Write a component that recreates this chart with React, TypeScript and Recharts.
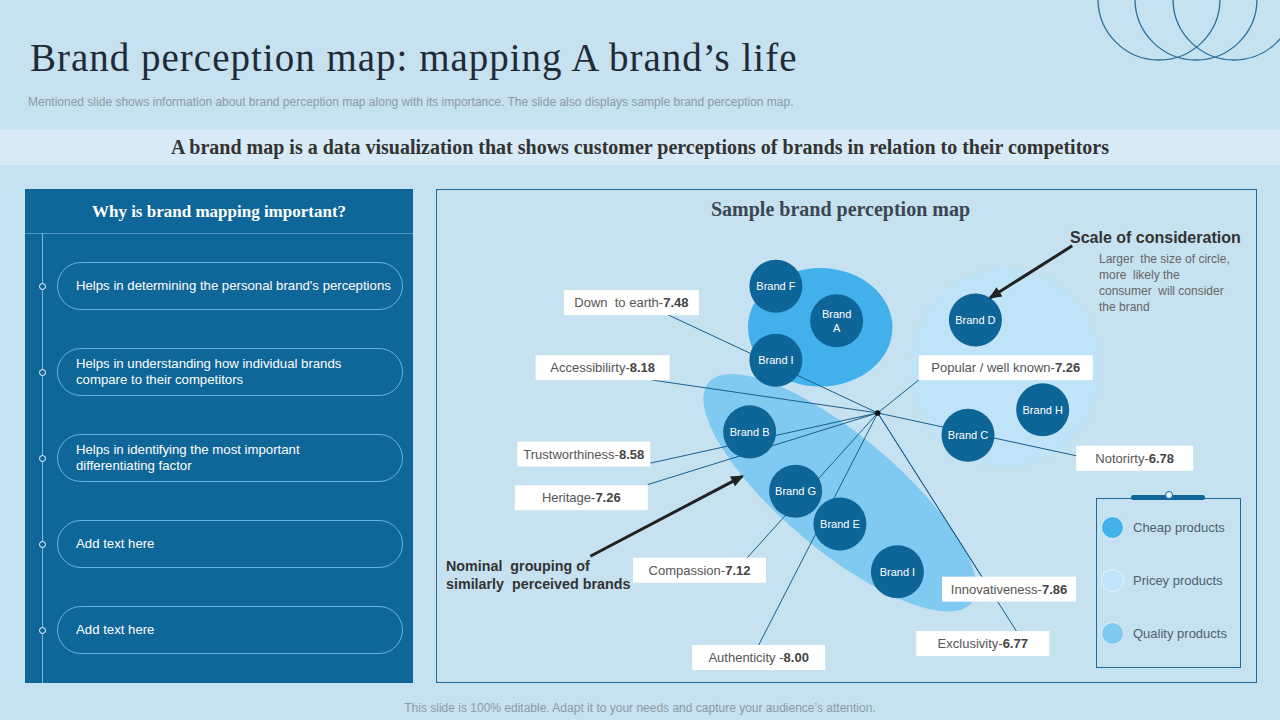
import React from 'react';
import { ScatterChart, Scatter, XAxis, YAxis, Legend } from 'recharts';

// ---------------- DATA ----------------
const brandNames = ['Brand F', 'Brand A', 'Brand I', 'Brand D', 'Brand H', 'Brand C', 'Brand B', 'Brand G', 'Brand E', 'Brand I'];
const brandX = [41.4, 48.8, 41.4, 65.7, 73.9, 64.8, 38.2, 43.8, 49.2, 56.2];
const brandY = [48.2, 44.0, 39.2, 44.1, 33.2, 30.1, 30.5, 23.3, 19.3, 13.5];

const clusterNames = ['Cheap products', 'Pricey products', 'Quality products'];
const clusterX = [46.8, 69.4, 49.2];
const clusterY = [43.2, 38.3, 23.1];
const clusterSpreadX = [8.8, 11.5, 20.9];
const clusterSpreadY = [7.2, 12.1, 7.0];
const clusterTilt = [0, 0, -40];

const attrNames = ['Down  to earth', 'Accessibilirty', 'Trustworthiness', 'Heritage', 'Compassion', 'Authenticity ', 'Popular / well known', 'Notorirty', 'Innovativeness', 'Exclusivity'];
const attrScores = ['7.48', '8.18', '8.58', '7.26', '7.12', '8.00', '7.26', '6.78', '7.86', '6.77'];
const attrX = [23.8, 20.3, 18.0, 17.7, 32.1, 39.3, 69.4, 85.1, 69.8, 66.6];
const attrY = [46.2, 38.3, 27.8, 22.5, 13.7, 3.1, 38.3, 27.3, 11.4, 4.8];
const attrLinkX = [28.3, 26.3, 26.1, 25.8, 37.9, 39.3, 58.8, 78.0, 66.5, 70.7];
const attrLinkY = [44.7, 36.8, 26.7, 24.1, 15.2, 4.6, 36.8, 27.6, 12.9, 6.3];

const hubX = 53.8;
const hubY = 32.8;

const arrowStartX = [77.5, 18.8];
const arrowStartY = [53.1, 15.4];
const arrowEndX = [67.5, 37.3];
const arrowEndY = [46.8, 25.1];

const importancePoints = [
  "Helps in determining the personal brand's perceptions",
  'Helps in understanding how individual  brands\ncompare to their competitors',
  'Helps in identifying the most important\ndifferentiating  factor',
  'Add text here',
  'Add text here',
];

// ---------------- STYLE ----------------
const SANS = '"Liberation Sans", Arial, sans-serif';
const SERIF = '"Liberation Serif", "Times New Roman", serif';
const BG = '#c6e1ef';
const BAND = '#d7eaf5';
const DARK = '#0f6699';
const BRAND_FILL = '#0e6598';
const LINK = '#1c5e8c';
const CLUSTER_COLORS = ['#41b0eb', '#bfe4f8', '#80c9f1'];

const CHART_LEFT = 436;
const CHART_TOP = 189;
const CHART_W = 821;
const CHART_H = 494;
const X_MAX = 100;
const Y_MAX = 60;
const PXX = CHART_W / X_MAX;
const PXY = CHART_H / Y_MAX;
const BRAND_R = 3.23 * PXX;
const BOX_W = [135, 134, 133, 133, 133, 133, 174, 117, 134, 133];
const BOX_H = 25;
const BRAND_WRAP = ['Brand A'];

// ---------------- DERIVED TABLES ----------------
const brandData = brandNames.map((name, i) => ({ name, x: brandX[i], y: brandY[i] }));
const clusterData = clusterNames.map((name, i) => [
  { name, x: clusterX[i], y: clusterY[i], sx: clusterSpreadX[i], sy: clusterSpreadY[i], tilt: clusterTilt[i], color: CLUSTER_COLORS[i] },
]);
const attrData = attrNames.map((name, i) => ({ name, score: attrScores[i], x: attrX[i], y: attrY[i], i }));
const linkData = attrNames.map((_, i) => [
  { x: hubX, y: hubY },
  { x: attrLinkX[i], y: attrLinkY[i] },
]);
const arrowData = arrowStartX.map((_, i) => [
  { x: arrowStartX[i], y: arrowStartY[i], head: false },
  { x: arrowEndX[i], y: arrowEndY[i], head: true, x0: arrowStartX[i], y0: arrowStartY[i] },
]);

// ---------------- SHAPES ----------------
const EmptyShape = () => <g />;

const BlobShape = (props: any) => {
  const { cx, cy, payload } = props;
  if (cx == null || cy == null) return <g />;
  return (
    <ellipse
      cx={cx}
      cy={cy}
      rx={payload.sx * PXX}
      ry={payload.sy * PXY}
      fill={payload.color}
      transform={`rotate(${-payload.tilt} ${cx} ${cy})`}
    />
  );
};

const HubShape = (props: any) => {
  const { cx, cy } = props;
  if (cx == null) return <g />;
  return <circle cx={cx} cy={cy} r={2.8} fill="#111" />;
};

const BrandShape = (props: any) => {
  const { cx, cy, payload } = props;
  if (cx == null) return <g />;
  const name: string = payload.name;
  const lines = BRAND_WRAP.includes(name) ? name.split(' ') : [name];
  return (
    <g>
      <circle cx={cx} cy={cy} r={BRAND_R} fill={BRAND_FILL} />
      <text textAnchor="middle" fill="#ffffff" fontSize={11} fontFamily={SANS}>
        {lines.map((l, k) => (
          <tspan key={k} x={cx} y={cy + (k - (lines.length - 1) / 2) * 14 + 4}>
            {l}
          </tspan>
        ))}
      </text>
    </g>
  );
};

const LabelShape = (props: any) => {
  const { cx, cy, payload } = props;
  if (cx == null) return <g />;
  const w = BOX_W[payload.i];
  return (
    <g>
      <rect x={cx - w / 2} y={cy - BOX_H / 2} width={w} height={BOX_H} fill="#ffffff" />
      <text x={cx} y={cy + 4.5} textAnchor="middle" fontSize={13} fontFamily={SANS} fill="#555" style={{ whiteSpace: 'pre' }}>
        <tspan>{payload.name + '-'}</tspan>
        <tspan fontWeight="bold" fill="#444">{payload.score}</tspan>
      </text>
    </g>
  );
};

const ArrowShape = (props: any) => {
  const { cx, cy, payload } = props;
  if (cx == null || !payload.head) return <g />;
  const ang = Math.atan2(-(payload.y - payload.y0) * PXY, (payload.x - payload.x0) * PXX);
  const L = 13;
  const W = 5.5;
  const tipX = cx + 2 * Math.cos(ang);
  const tipY = cy + 2 * Math.sin(ang);
  const bx = tipX - L * Math.cos(ang);
  const by = tipY - L * Math.sin(ang);
  const nx = -Math.sin(ang);
  const ny = Math.cos(ang);
  const pts = `${tipX},${tipY} ${bx + W * nx},${by + W * ny} ${bx - W * nx},${by - W * ny}`;
  return <polygon points={pts} fill="#222" />;
};

const renderLegend = () => (
  <div style={{ position: 'relative', width: 145, height: 170, border: '1.5px solid #1d6a9b', boxSizing: 'border-box' }}>
    <div style={{ position: 'absolute', left: 34, top: -4, width: 74, height: 5, borderRadius: 3, background: DARK }} />
    <div style={{ position: 'absolute', left: 68, top: -8, width: 6, height: 6, borderRadius: 4, background: '#eef7fc', border: `1px solid ${DARK}` }} />
    {clusterNames.map((n, i) => (
      <div key={n} style={{ position: 'absolute', left: 4, top: 16 + i * 53, height: 24, display: 'flex', alignItems: 'center' }}>
        <div style={{ width: 21, height: 21, borderRadius: 12, background: CLUSTER_COLORS[i], border: '1.5px solid #e3f3fc' }} />
        <span style={{ marginLeft: 9, fontFamily: SANS, fontSize: 13, color: '#4f6070', whiteSpace: 'nowrap' }}>{n}</span>
      </div>
    ))}
  </div>
);

// ---------------- APP ----------------
export default function App() {
  const abs = (o: React.CSSProperties): React.CSSProperties => ({ position: 'absolute', ...o });
  return (
    <div style={abs({ left: 0, top: 0, width: 1280, height: 720, background: BG, overflow: 'hidden', fontFamily: SANS })}>
      {/* decorative circles */}
      <svg width={1280} height={720} style={abs({ left: 0, top: 0 })}>
        {[1159, 1196, 1234].map((c) => (
          <circle key={c} cx={c} cy={-1} r={61} fill="none" stroke="#2c6e9b" strokeWidth={1.3} />
        ))}
      </svg>

      <div style={abs({ left: 30, top: 36, height: 44, lineHeight: '44px', fontFamily: SERIF, fontSize: 39, letterSpacing: 1, color: '#1f2b36', whiteSpace: 'nowrap' })}>
        Brand perception map: mapping A brand’s life
      </div>
      <div style={abs({ left: 28, top: 94, lineHeight: '16px', fontSize: 12, color: '#8b9aa6', whiteSpace: 'nowrap' })}>
        Mentioned slide shows information about brand perception map along with its importance. The slide also displays sample brand perception map.
      </div>

      <div style={abs({ left: 0, top: 130, width: 1280, height: 35, background: BAND })} />
      <div style={abs({ left: 0, top: 130, width: 1280, height: 35, lineHeight: '35px', textAlign: 'center', fontFamily: SERIF, fontWeight: 'bold', fontSize: 20, color: '#333' })}>
        A brand map is a data visualization that shows customer perceptions of brands in relation to their competitors
      </div>

      {/* Left panel */}
      <div style={abs({ left: 25, top: 189, width: 388, height: 494, background: DARK })}>
        <div style={abs({ left: 0, top: 12, width: 388, lineHeight: '22px', textAlign: 'center', fontFamily: SERIF, fontWeight: 'bold', fontSize: 17, color: '#fff' })}>
          Why is brand mapping important?
        </div>
        <div style={abs({ left: 0, top: 44, width: 388, height: 1, background: '#4f97c8' })} />
        <div style={abs({ left: 17, top: 44, width: 1, height: 450, background: '#7cb8de' })} />
        {importancePoints.map((t, i) => (
          <React.Fragment key={i}>
            <div style={abs({ left: 32, top: 73 + i * 86, width: 346, height: 48, boxSizing: 'border-box', border: '1px solid #62b2e4', borderRadius: 24 })} />
            <div style={abs({ left: 14, top: 94 + i * 86, width: 7, height: 7, boxSizing: 'border-box', borderRadius: 4, background: DARK, border: '1.3px solid #fff' })} />
            <div style={abs({ left: 51, top: 73 + i * 86, height: 48, display: 'flex', alignItems: 'center', fontSize: 13.2, lineHeight: '16px', color: '#fff', whiteSpace: 'pre-line' })}>
              {t}
            </div>
          </React.Fragment>
        ))}
      </div>

      {/* Chart panel */}
      <div style={abs({ left: CHART_LEFT, top: CHART_TOP, width: CHART_W, height: CHART_H, boxSizing: 'border-box', border: '1.5px solid #1d6a9b' })} />
      <div style={abs({ left: CHART_LEFT, top: CHART_TOP })}>
        <ScatterChart width={CHART_W} height={CHART_H} margin={{ top: 0, right: 0, bottom: 0, left: 0 }}>
          <XAxis type="number" dataKey="x" domain={[0, X_MAX]} hide />
          <YAxis type="number" dataKey="y" domain={[0, Y_MAX]} hide />
          {clusterData.map((d, i) => (
            <Scatter key={clusterNames[i]} name={clusterNames[i]} data={d} fill={CLUSTER_COLORS[i]} shape={BlobShape} isAnimationActive={false} />
          ))}
          {linkData.map((d, i) => (
            <Scatter key={'l' + i} data={d} line={{ stroke: LINK, strokeWidth: 1 }} shape={EmptyShape} legendType="none" isAnimationActive={false} />
          ))}
          <Scatter data={[{ x: hubX, y: hubY }]} shape={HubShape} legendType="none" isAnimationActive={false} />
          <Scatter data={attrData} shape={LabelShape} legendType="none" isAnimationActive={false} />
          <Scatter data={brandData} shape={BrandShape} legendType="none" isAnimationActive={false} />
          {arrowData.map((d, i) => (
            <Scatter key={'a' + i} data={d} line={{ stroke: '#222', strokeWidth: 3 }} shape={ArrowShape} legendType="none" isAnimationActive={false} />
          ))}
          <Legend
            content={renderLegend}
            layout="horizontal"
            verticalAlign="middle"
            align="center"
            wrapperStyle={{ left: 660, top: 309, width: 145, height: 170 }}
          />
        </ScatterChart>
      </div>

      <div style={abs({ left: CHART_LEFT - 6, top: 197, width: CHART_W, lineHeight: '24px', textAlign: 'center', fontFamily: SERIF, fontWeight: 'bold', fontSize: 20, color: '#3a4652' })}>
        Sample brand perception map
      </div>

      <div style={abs({ left: 1070, top: 228, lineHeight: '20px', fontWeight: 'bold', fontSize: 16, color: '#333', whiteSpace: 'nowrap' })}>
        Scale of consideration
      </div>
      <div style={abs({ left: 1099, top: 251, lineHeight: '16px', fontSize: 12, color: '#666', whiteSpace: 'pre' })}>
        {'Larger  the size of circle,\nmore  likely the\nconsumer  will consider\nthe brand'}
      </div>
      <div style={abs({ left: 446, top: 557, lineHeight: '18px', fontWeight: 'bold', fontSize: 14.3, color: '#333', whiteSpace: 'pre' })}>
        {'Nominal  grouping of\nsimilarly  perceived brands'}
      </div>

      <div style={abs({ left: 0, top: 700, width: 1280, lineHeight: '16px', textAlign: 'center', fontSize: 12, color: '#8b9aa6' })}>
        This slide is 100% editable. Adapt it to your needs and capture your audience’s attention.
      </div>
    </div>
  );
}
